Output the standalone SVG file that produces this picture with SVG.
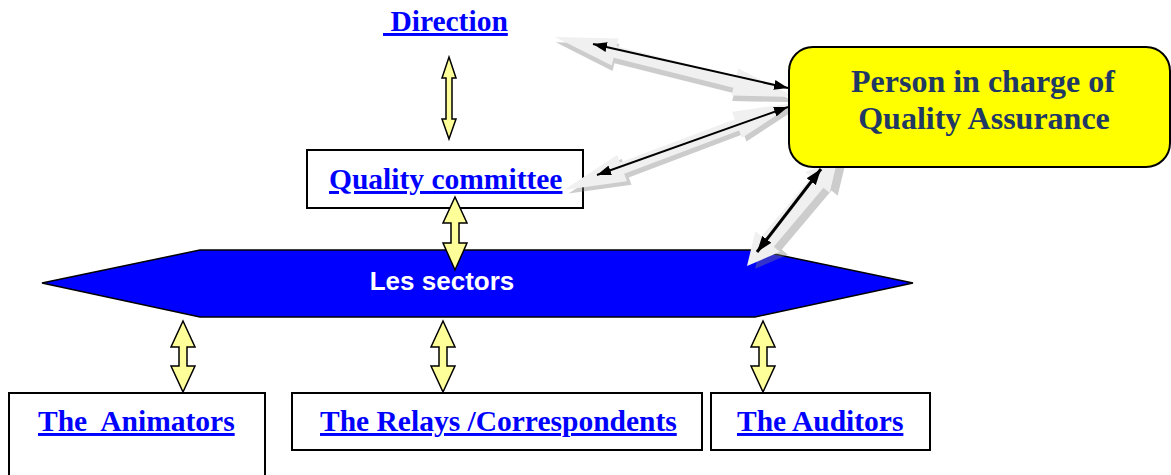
<svg xmlns="http://www.w3.org/2000/svg" width="1171" height="475" viewBox="0 0 1171 475">
<style>
.lbl{font-family:"Liberation Serif","Times New Roman",serif;font-weight:bold;font-size:29.5px;fill:#0000FF;text-decoration:underline;white-space:pre}
.box{fill:#FFFFFF;stroke:#000000;stroke-width:2}
.ya{fill:#FFFF99;stroke:#000000;stroke-width:1.5;stroke-linejoin:miter}
.gray{fill:#F0F0F0}
.shadow{fill:#808080;opacity:0.4}
.blk{stroke:#000000;stroke-width:2;fill:none;marker-start:url(#ah);marker-end:url(#ah)}
</style>
<defs>
<marker id="ah" viewBox="0 0 14 10" refX="14" refY="5" markerWidth="14" markerHeight="10" markerUnits="userSpaceOnUse" orient="auto-start-reverse">
<path d="M0,0 L14,5 L0,10 z" fill="#000000"/>
</marker>
<marker id="ah3" viewBox="0 0 14 10" refX="14" refY="5" markerWidth="16" markerHeight="12" markerUnits="userSpaceOnUse" orient="auto-start-reverse">
<path d="M0,0 L14,5 L0,10 z" fill="#000000"/>
</marker>
</defs>
<rect width="1171" height="475" fill="#FFFFFF"/>

<g id="sectors">
<polygon points="42,283 200,250 755,250 913,283 755,317 200,317" fill="#0000FF" stroke="#000000" stroke-width="1.5"/>
<text x="442" y="290" text-anchor="middle" font-family="'Liberation Sans',Arial,sans-serif" font-weight="bold" font-size="26" fill="#FFFFFF">Les sectors</text>
</g>

<g id="direction">
<text class="lbl" x="383" y="31"> Direction</text>
</g>

<g id="quality-committee">
<rect class="box" x="307" y="150" width="276" height="58"/>
<text class="lbl" x="329" y="189">Quality committee</text>
</g>

<g id="animators">
<rect class="box" x="9" y="393" width="256" height="90"/>
<text class="lbl" x="38" y="431">The  Animators</text>
</g>
<g id="relays">
<rect class="box" x="292" y="393" width="410" height="57"/>
<text class="lbl" x="320" y="431">The Relays /Correspondents</text>
</g>
<g id="auditors">
<rect class="box" x="711" y="393" width="219" height="57"/>
<text class="lbl" x="737" y="431">The Auditors</text>
</g>

<g id="connectors">
<!-- gray 3D block arrows -->
<g transform="translate(555,37) rotate(14.04)">
<polygon class="shadow" transform="translate(2,5)" points="0,0 62,-14 62,-6 185.4,-6 185.4,-14 247.4,0 185.4,14 185.4,6 62,6 62,14"/>
<polygon class="gray" points="0,0 62,-14 62,-6 185.4,-6 185.4,-14 247.4,0 185.4,14 185.4,6 62,6 62,14"/>
</g>
<g transform="translate(564,190) rotate(-20.64)">
<polygon class="shadow" transform="translate(3,5)" points="0,0 62,-14 62,-6 184.8,-6 184.8,-14 246.8,0 184.8,14 184.8,6 62,6 62,14"/>
<polygon class="gray" points="0,0 62,-14 62,-6 184.8,-6 184.8,-14 246.8,0 184.8,14 184.8,6 62,6 62,14"/>
</g>
<g transform="translate(747,266) rotate(-49.88)">
<polygon class="shadow" transform="translate(3,8)" points="0,0 32,-16 32,-8 109.2,-8 109.2,-16 141.2,0 109.2,16 109.2,8 32,8 32,16"/>
<polygon class="gray" points="0,0 32,-16 32,-8 109.2,-8 109.2,-16 141.2,0 109.2,16 109.2,8 32,8 32,16"/>
</g>

<!-- yellow double arrows -->
<polygon class="ya" points="449,57 456,78 452,78 452,119 456,119 449,139 442,119 446,119 446,78 442,78"/>
<polygon class="ya" points="455,197 467,223 459,223 459,243 467,243 455,270 443,243 451,243 451,223 443,223"/>
<polygon class="ya" points="183,321 195,347 187,347 187,366 195,366 183,392 171,366 179,366 179,347 171,347"/>
<polygon class="ya" points="443,321 455,347 447,347 447,366 455,366 443,392 431,366 439,366 439,347 431,347"/>
<polygon class="ya" points="763,321 775,347 767,347 767,366 775,366 763,392 751,366 759,366 759,347 751,347"/>
</g>

<g id="person-qa">
<rect x="789" y="47" width="381" height="120" rx="24" ry="24" fill="#FFFF00" stroke="#000000" stroke-width="2"/>
<text x="983" y="92" text-anchor="middle" font-family="'Liberation Serif','Times New Roman',serif" font-weight="bold" font-size="32" fill="#1F3864">Person in charge of</text>
<text x="984" y="129" text-anchor="middle" font-family="'Liberation Serif','Times New Roman',serif" font-weight="bold" font-size="32" fill="#1F3864">Quality Assurance</text>
</g>

<g id="connector-lines">
<line class="blk" x1="593" y1="44" x2="788" y2="88"/>
<line class="blk" x1="597" y1="175" x2="788" y2="107"/>
<line x1="757" y1="252" x2="821" y2="169" stroke="#000000" stroke-width="3" marker-start="url(#ah3)" marker-end="url(#ah3)"/>
</g>
</svg>
